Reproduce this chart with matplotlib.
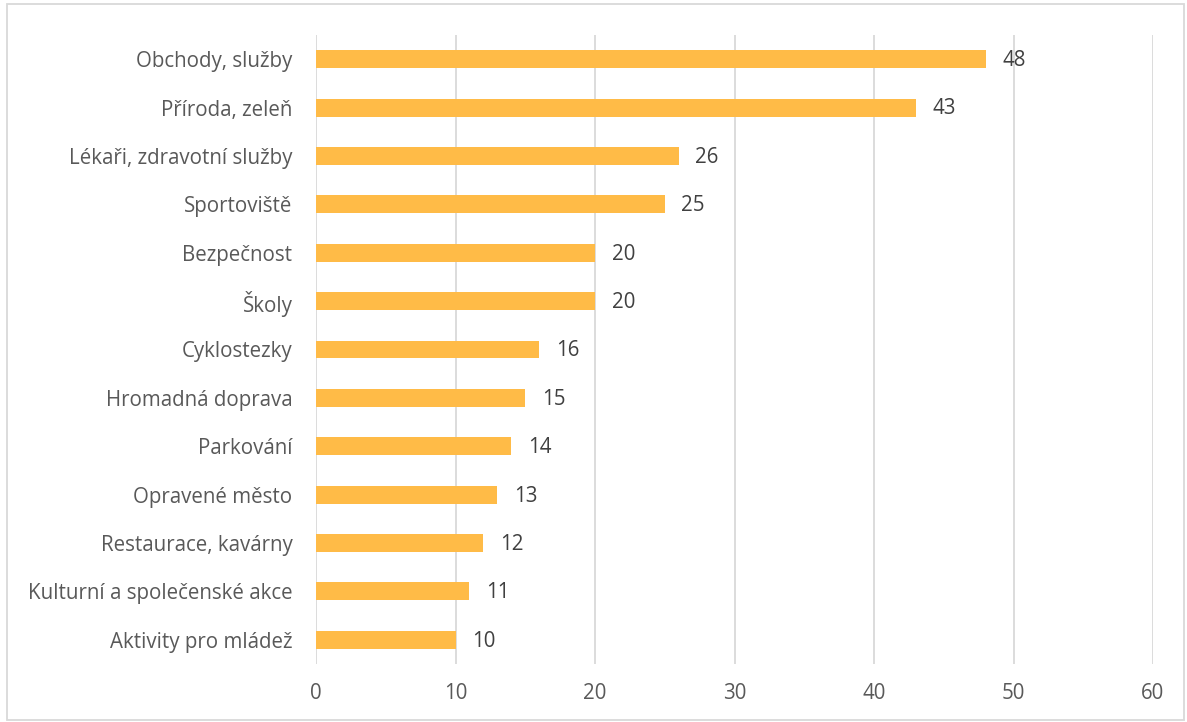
import matplotlib.pyplot as plt
from matplotlib.patches import Rectangle

categories = ['Obchody, služby', 'Příroda, zeleň', 'Lékaři, zdravotní služby', 'Sportoviště',
              'Bezpečnost', 'Školy', 'Cyklostezky', 'Hromadná doprava', 'Parkování',
              'Opravené město', 'Restaurace, kavárny', 'Kulturní a společenské akce',
              'Aktivity pro mládež']
values = [48, 43, 26, 25, 20, 20, 16, 15, 14, 13, 12, 11, 10]
xticks = [0, 10, 20, 30, 40, 50, 60]

BAR_COLOR  = '#FFBB47'
TEXT_COLOR = '#595959'
GRID_COLOR = '#D9D9D9'
FS = 14.8

plt.rcParams['font.family'] = ['Open Sans', 'DejaVu Sans']

fig = plt.figure(figsize=(11.87, 7.22), dpi=100)
ax = fig.add_axes([316 / 1187, 1 - 664 / 722, (1153 - 316) / 1187, (664 - 35) / 722])

y = list(range(len(categories)))
ax.barh(y, values, height=0.37, color=BAR_COLOR, zorder=3)
for yi, v in zip(y, values):
    ax.annotate(str(v), (v, yi), xytext=(12, -1), textcoords='offset points',
                va='center', ha='left', fontsize=FS, color='#404040')

ax.set_xlim(0, 60)
ax.set_ylim(len(categories) - 0.5, -0.5)
ax.set_yticks(y)
ax.set_yticklabels(categories, fontsize=FS, color=TEXT_COLOR)
ax.set_xticks(xticks)
ax.set_xticklabels([str(t) for t in xticks], fontsize=FS, color=TEXT_COLOR)
ax.tick_params(length=0, pad=14, axis='x')
ax.tick_params(length=0, pad=17, axis='y')
ax.grid(axis='x', color=GRID_COLOR, linewidth=1.3, zorder=0)
for s in ax.spines.values():
    s.set_visible(False)

# outer chart border
fig.patches.append(Rectangle((7 / 1187, 2 / 722), 1177 / 1187, 716 / 722, transform=fig.transFigure,
                             fill=False, edgecolor=GRID_COLOR, linewidth=1.3))

fig.savefig('out.png', dpi=100)
